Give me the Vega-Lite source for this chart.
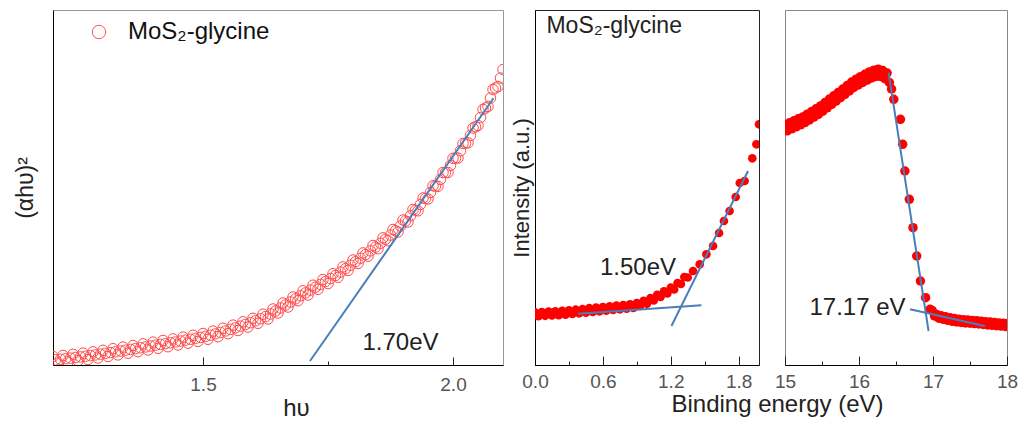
{
  "$schema": "https://vega.github.io/schema/vega-lite/v6.json",
  "padding": {"left": 13, "top": 9, "right": 5, "bottom": 5},
  "background": "white",
  "config": {
    "font": "Liberation Sans",
    "axis": {"labelFont": "Liberation Sans", "titleFont": "Liberation Sans", "titleFontWeight": "normal", "labelColor": "#555", "titleColor": "#222", "domainColor": "#000", "tickColor": "#222", "grid": false, "labelFlush": false}
  },
  "datasets": {
    "left_pts": [
      {"x":1.20,"y":8.5},{"x":1.21,"y":2},{"x":1.22,"y":9.5},{"x":1.23,"y":3.1},{"x":1.24,"y":10.7},{"x":1.25,"y":4.3},{"x":1.26,"y":11.9},{"x":1.27,"y":5.5},{"x":1.28,"y":13.2},{"x":1.29,"y":7},
      {"x":1.30,"y":14.7},{"x":1.31,"y":8.5},{"x":1.32,"y":16.3},{"x":1.33,"y":10.1},{"x":1.34,"y":17.9},{"x":1.35,"y":11.7},{"x":1.36,"y":19.5},{"x":1.37,"y":13.3},{"x":1.38,"y":21.1},{"x":1.39,"y":15},
      {"x":1.40,"y":22.9},{"x":1.41,"y":16.7},{"x":1.42,"y":24.5},{"x":1.43,"y":18.3},{"x":1.44,"y":26.1},{"x":1.45,"y":20},{"x":1.46,"y":27.9},{"x":1.47,"y":21.8},{"x":1.48,"y":29.7},{"x":1.49,"y":23.6},
      {"x":1.50,"y":31.5},{"x":1.51,"y":25.7},{"x":1.52,"y":33.9},{"x":1.53,"y":28.3},{"x":1.54,"y":36.8},{"x":1.55,"y":31.3},{"x":1.56,"y":39.9},{"x":1.57,"y":34.5},{"x":1.58,"y":43.2},{"x":1.59,"y":37.9},
      {"x":1.60,"y":46.7},{"x":1.61,"y":41.7},{"x":1.62,"y":50.8},{"x":1.63,"y":46},{"x":1.64,"y":56},{"x":1.65,"y":52},{"x":1.66,"y":62},{"x":1.67,"y":58},{"x":1.68,"y":68},{"x":1.69,"y":64.3},
      {"x":1.70,"y":74.2},{"x":1.71,"y":70},{"x":1.72,"y":79.8},{"x":1.73,"y":75.7},{"x":1.74,"y":85.5},{"x":1.75,"y":81.4},{"x":1.76,"y":91.3},{"x":1.77,"y":87.7},{"x":1.78,"y":98.1},{"x":1.79,"y":94.5},
      {"x":1.80,"y":105},{"x":1.81,"y":101.5},{"x":1.82,"y":112.1},{"x":1.83,"y":108.8},{"x":1.84,"y":119.5},{"x":1.85,"y":116.3},{"x":1.86,"y":127.2},{"x":1.87,"y":124.3},{"x":1.88,"y":135.5},{"x":1.89,"y":133},
      {"x":1.90,"y":145},{"x":1.91,"y":143},{"x":1.92,"y":155.5},{"x":1.93,"y":154.2},{"x":1.94,"y":167},{"x":1.95,"y":166},{"x":1.96,"y":179.2},{"x":1.97,"y":178.7},{"x":1.98,"y":192.5},{"x":1.99,"y":192.5},
      {"x":2.00,"y":206.7},{"x":2.01,"y":207},{"x":2.02,"y":221.5},{"x":2.03,"y":222.2},{"x":2.04,"y":237},{"x":2.05,"y":239.5},{"x":2.06,"y":255.5},{"x":2.07,"y":258.5},{"x":2.08,"y":275.5},{"x":2.09,"y":278.5},
      {"x":2.10,"y":295.5},
      {"x":1.205,"y":5.25},{"x":1.215,"y":5.75},{"x":1.225,"y":6.3},{"x":1.235,"y":6.9},{"x":1.245,"y":7.5},{"x":1.255,"y":8.1},{"x":1.265,"y":8.7},{"x":1.275,"y":9.35},{"x":1.285,"y":10.1},{"x":1.295,"y":10.85},
      {"x":1.305,"y":11.6},{"x":1.315,"y":12.4},{"x":1.325,"y":13.2},{"x":1.335,"y":14},{"x":1.345,"y":14.8},{"x":1.355,"y":15.6},{"x":1.365,"y":16.4},{"x":1.375,"y":17.2},{"x":1.385,"y":18.05},{"x":1.395,"y":18.95},
      {"x":1.405,"y":19.8},{"x":1.415,"y":20.6},{"x":1.425,"y":21.4},{"x":1.435,"y":22.2},{"x":1.445,"y":23.05},{"x":1.455,"y":23.95},{"x":1.465,"y":24.85},{"x":1.475,"y":25.75},{"x":1.485,"y":26.65},{"x":1.495,"y":27.55},
      {"x":1.505,"y":28.6},{"x":1.515,"y":29.8},{"x":1.525,"y":31.1},{"x":1.535,"y":32.55},{"x":1.545,"y":34.05},{"x":1.555,"y":35.6},{"x":1.565,"y":37.2},{"x":1.575,"y":38.85},{"x":1.585,"y":40.55},{"x":1.595,"y":42.3},
      {"x":1.605,"y":44.2},{"x":1.615,"y":46.25},{"x":1.625,"y":48.4},{"x":1.635,"y":51},{"x":1.645,"y":54},{"x":1.655,"y":57},{"x":1.665,"y":60},{"x":1.675,"y":63},{"x":1.685,"y":66.15},{"x":1.695,"y":69.25},
      {"x":1.705,"y":72.1},{"x":1.715,"y":74.9},{"x":1.725,"y":77.75},{"x":1.735,"y":80.6},{"x":1.745,"y":83.45},{"x":1.755,"y":86.35},{"x":1.765,"y":89.5},{"x":1.775,"y":92.9},{"x":1.785,"y":96.3},{"x":1.795,"y":99.75},
      {"x":1.805,"y":103.25},{"x":1.815,"y":106.8},{"x":1.825,"y":110.45},{"x":1.835,"y":114.15},{"x":1.845,"y":117.9},{"x":1.855,"y":121.75},{"x":1.865,"y":125.75},{"x":1.875,"y":129.9},{"x":1.885,"y":134.25},{"x":1.895,"y":139},
      {"x":1.905,"y":144},{"x":1.915,"y":149.25},{"x":1.925,"y":154.85},{"x":1.935,"y":160.6},{"x":1.945,"y":166.5},{"x":1.955,"y":172.6},{"x":1.965,"y":178.95},{"x":1.975,"y":185.6},{"x":1.985,"y":192.5},{"x":1.995,"y":199.6},
      {"x":2.005,"y":206.85},{"x":2.015,"y":214.25},{"x":2.025,"y":221.85},{"x":2.035,"y":229.6},{"x":2.045,"y":238.25},{"x":2.055,"y":247.5},{"x":2.065,"y":257},{"x":2.075,"y":267},{"x":2.085,"y":277},{"x":2.095,"y":287}
    ],
    "left_lines": [
      {"x":1.714,"y":4,"seg":"fit"},{"x":2.081,"y":266.7,"seg":"fit"}
    ],
    "left_text": [
      {"x":1.895,"y":22.3,"label":"1.70eV"}
    ],
    "mid_pts": [
      {"x":0.00,"y":52.7},{"x":0.03,"y":48.9},{"x":0.06,"y":53},{"x":0.09,"y":49.2},{"x":0.12,"y":53.4},{"x":0.15,"y":49.5},{"x":0.18,"y":53.7},{"x":0.21,"y":49.9},{"x":0.24,"y":54.1},{"x":0.27,"y":50.3},
      {"x":0.30,"y":54.6},{"x":0.33,"y":51},{"x":0.36,"y":55.3},{"x":0.39,"y":51.7},{"x":0.42,"y":56},{"x":0.45,"y":52.4},{"x":0.48,"y":56.8},{"x":0.51,"y":53.1},{"x":0.54,"y":57.5},{"x":0.57,"y":53.7},
      {"x":0.60,"y":58},{"x":0.63,"y":54.4},{"x":0.66,"y":58.7},{"x":0.69,"y":55},{"x":0.72,"y":59.4},{"x":0.75,"y":55.7},{"x":0.78,"y":60},{"x":0.81,"y":56.4},{"x":0.84,"y":60.7},{"x":0.87,"y":57},
      {"x":0.90,"y":62},{"x":0.93,"y":59.1},{"x":0.96,"y":64.1},{"x":0.99,"y":61.2},{"x":1.02,"y":66.8},{"x":1.05,"y":64.5},{"x":1.08,"y":70.1},{"x":1.11,"y":68},{"x":1.14,"y":73.6},{"x":1.17,"y":71.5},
      {"x":1.20,"y":77.3},{"x":1.23,"y":75.5},{"x":1.26,"y":82},{"x":1.29,"y":81},{"x":1.32,"y":88},{"x":1.35,"y":87.5},
      {"x":1.397,"y":94},{"x":1.456,"y":100.7},{"x":1.515,"y":110.7},{"x":1.574,"y":119},{"x":1.627,"y":132},{"x":1.67,"y":144},{"x":1.72,"y":154},{"x":1.774,"y":168},{"x":1.81,"y":182},{"x":1.853,"y":184},
      {"x":1.921,"y":206.7},{"x":1.957,"y":220.7},{"x":1.98,"y":240.7}
    ],
    "mid_lines": [
      {"x":0.382,"y":51.3,"seg":"base"},{"x":1.471,"y":59.7,"seg":"base"},
      {"x":1.206,"y":39,"seg":"steep"},{"x":1.883,"y":194,"seg":"steep"}
    ],
    "mid_text": [
      {"x":0.91,"y":97.3,"label":"1.50eV","size":24},
      {"x":0.70,"y":339,"label":"MoS₂-glycine","size":23}
    ],
    "right_pts": [
      {"x":15.00,"y":240.2},{"x":15.03,"y":234.2},{"x":15.06,"y":242.2},{"x":15.09,"y":236.2},{"x":15.12,"y":244.2},{"x":15.15,"y":238.2},{"x":15.18,"y":246.2},{"x":15.21,"y":240.2},{"x":15.24,"y":248.1},{"x":15.27,"y":242.4},
      {"x":15.30,"y":250.8},{"x":15.33,"y":245.1},{"x":15.36,"y":253.5},{"x":15.39,"y":247.9},{"x":15.42,"y":256.2},{"x":15.45,"y":250.6},{"x":15.48,"y":259.1},{"x":15.51,"y":253.8},{"x":15.54,"y":262.5},{"x":15.57,"y":257.2},
      {"x":15.60,"y":265.9},{"x":15.63,"y":260.5},{"x":15.66,"y":269.2},{"x":15.69,"y":263.9},{"x":15.72,"y":272.6},{"x":15.75,"y":267.3},{"x":15.78,"y":276},{"x":15.81,"y":270.7},{"x":15.84,"y":279.4},{"x":15.87,"y":274.1},
      {"x":15.90,"y":282.9},{"x":15.93,"y":277.6},{"x":15.96,"y":285.8},{"x":15.99,"y":280},{"x":16.02,"y":288.3},{"x":16.05,"y":282.5},{"x":16.08,"y":290.7},{"x":16.11,"y":284.9},{"x":16.14,"y":293.1},{"x":16.17,"y":287},
      {"x":16.20,"y":294.8},{"x":16.23,"y":288.5},{"x":16.26,"y":295.8},{"x":16.29,"y":288.5},{"x":16.32,"y":294.5},{"x":16.35,"y":286.3},{"x":16.38,"y":292},{"x":16.41,"y":282.5},{"x":16.44,"y":276},
      {"x":16.47,"y":265.7},{"x":16.56,"y":245.7},{"x":16.59,"y":220.7},{"x":16.62,"y":194},{"x":16.68,"y":165.7},{"x":16.73,"y":137.3},{"x":16.78,"y":109},{"x":16.83,"y":84},{"x":16.90,"y":67.3},{"x":16.96,"y":55.7},
      {"x":16.99,"y":54.5},{"x":17.02,"y":49},{"x":17.05,"y":50.5},{"x":17.08,"y":46.8},{"x":17.11,"y":49.2},{"x":17.14,"y":45.7},{"x":17.17,"y":48.2},{"x":17.20,"y":44.7},{"x":17.23,"y":47.2},{"x":17.26,"y":43.7},
      {"x":17.29,"y":46.4},{"x":17.32,"y":43.1},{"x":17.35,"y":45.8},{"x":17.38,"y":42.5},{"x":17.41,"y":45.3},{"x":17.44,"y":42.1},{"x":17.47,"y":44.9},{"x":17.50,"y":41.8},{"x":17.53,"y":44.6},{"x":17.56,"y":41.4},
      {"x":17.59,"y":44.2},{"x":17.62,"y":41},{"x":17.65,"y":43.8},{"x":17.68,"y":40.5},{"x":17.71,"y":43.3},{"x":17.74,"y":40.1},{"x":17.77,"y":42.9},{"x":17.80,"y":39.7},{"x":17.83,"y":42.5},{"x":17.86,"y":39.3},
      {"x":17.89,"y":42.1},{"x":17.92,"y":38.9},{"x":17.95,"y":41.8},{"x":17.98,"y":38.6},{"x":18.01,"y":41.5}
    ],
    "right_lines": [
      {"x":16.40,"y":292.3,"seg":"steep"},{"x":16.94,"y":34,"seg":"steep"},
      {"x":16.69,"y":55.7,"seg":"base"},{"x":17.70,"y":39,"seg":"base"}
    ],
    "right_text": [
      {"x":15.98,"y":57.3,"label":"17.17 eV"}
    ]
  },
  "bounds": "flush",
  "spacing": 32,
  "hconcat": [
    {
      "width": 450,
      "height": 355,
      "view": {"stroke": "#999"},
      "resolve": {"axis": {"x": "independent", "y": "independent"}},
      "layer": [
        {
          "data": {"name": "left_pts"},
          "mark": {"type": "point", "shape": "circle", "filled": false, "size": 110, "strokeWidth": 1, "opacity": 1, "clip": true},
          "encoding": {
            "x": {"field": "x", "type": "quantitative", "scale": {"domain": [1.2, 2.1], "nice": false, "zero": false},
                  "axis": {"orient": "bottom", "values": [1.5, 2.0], "format": ".1f", "tickSize": -8, "labelPadding": 18, "labelFontSize": 19, "title": "hυ", "titleFontSize": 24, "titleX": 243, "titlePadding": 2}},
            "y": {"field": "y", "type": "quantitative", "scale": {"domain": [0, 355], "nice": false},
                  "axis": {"orient": "left", "ticks": false, "labels": false, "title": "(αhυ)²", "titleFontSize": 23, "titlePadding": 16}},
            "color": {"datum": "MoS₂-glycine", "type": "nominal", "scale": {"range": ["#ff4d4d"]},
                      "legend": {"orient": "none", "legendX": 34, "legendY": 10, "title": null, "labelFontSize": 24, "labelFont": "Liberation Sans", "labelColor": "#111", "symbolSize": 180, "symbolStrokeWidth": 1, "labelOffset": 17, "symbolType": "circle", "padding": 0}}
          }
        },
        {
          "data": {"name": "left_lines"},
          "mark": {"type": "line", "color": "#4a7ebb", "strokeWidth": 2},
          "encoding": {
            "x": {"field": "x", "type": "quantitative", "axis": {"orient": "bottom", "values": [1.75], "tickSize": -4, "labels": false, "domain": false, "title": null}},
            "y": {"field": "y", "type": "quantitative", "axis": null},
            "detail": {"field": "seg"}
          }
        },
        {
          "data": {"name": "left_text"},
          "mark": {"type": "text", "fontSize": 24, "color": "#222", "font": "Liberation Sans"},
          "encoding": {
            "x": {"field": "x", "type": "quantitative", "axis": null},
            "y": {"field": "y", "type": "quantitative", "axis": null},
            "text": {"field": "label"}
          }
        }
      ]
    },
    {
      "bounds": "flush",
      "spacing": 26,
      "hconcat": [
        {
          "width": 224,
          "height": 355,
          "view": {"stroke": "#222"},
          "resolve": {"axis": {"x": "independent", "y": "independent"}},
          "layer": [
            {
              "data": {"name": "mid_pts"},
              "mark": {"type": "circle", "size": 75, "color": "#ff0000", "opacity": 1, "clip": true},
              "encoding": {
                "x": {"field": "x", "type": "quantitative", "scale": {"domain": [0, 1.98], "nice": false, "zero": false},
                      "axis": {"orient": "bottom", "values": [0, 0.6, 1.2, 1.8], "format": ".1f", "tickSize": -9, "labelPadding": 16, "labelFontSize": 19, "title": "Binding energy (eV)", "titleFontSize": 24, "titleX": 242, "titlePadding": 1}},
                "y": {"field": "y", "type": "quantitative", "scale": {"domain": [0, 355], "nice": false},
                      "axis": {"orient": "left", "ticks": false, "labels": false, "title": "Intensity (a.u.)", "titleFontSize": 22, "titlePadding": 2}}
              }
            },
            {
              "data": {"name": "mid_lines"},
              "mark": {"type": "line", "color": "#4a7ebb", "strokeWidth": 2},
              "encoding": {
                "x": {"field": "x", "type": "quantitative", "axis": {"orient": "bottom", "values": [0.3, 0.9, 1.5], "tickSize": -4, "labels": false, "domain": false, "title": null}},
                "y": {"field": "y", "type": "quantitative", "axis": null},
                "detail": {"field": "seg"}
              }
            },
            {
              "data": {"name": "mid_text"},
              "mark": {"type": "text", "color": "#222", "font": "Liberation Sans"},
              "encoding": {
                "x": {"field": "x", "type": "quantitative", "axis": null},
                "y": {"field": "y", "type": "quantitative", "axis": null},
                "text": {"field": "label"},
                "size": {"field": "size", "type": "quantitative", "scale": null}
              }
            }
          ]
        },
        {
          "width": 222,
          "height": 355,
          "view": {"stroke": "#888"},
          "resolve": {"axis": {"x": "independent", "y": "independent"}},
          "layer": [
            {
              "data": {"name": "right_pts"},
              "mark": {"type": "circle", "size": 90, "color": "#ff0000", "opacity": 1, "clip": true},
              "encoding": {
                "x": {"field": "x", "type": "quantitative", "scale": {"domain": [15, 18], "nice": false, "zero": false},
                      "axis": {"orient": "bottom", "values": [15, 16, 17, 18], "format": "d", "tickSize": -9, "labelPadding": 16, "labelFontSize": 19, "title": null}},
                "y": {"field": "y", "type": "quantitative", "scale": {"domain": [0, 355], "nice": false}, "axis": null}
              }
            },
            {
              "data": {"name": "right_lines"},
              "mark": {"type": "line", "color": "#4a7ebb", "strokeWidth": 2},
              "encoding": {
                "x": {"field": "x", "type": "quantitative", "axis": {"orient": "bottom", "values": [15.5, 16.5, 17.5], "tickSize": -4, "labels": false, "domain": false, "title": null}},
                "y": {"field": "y", "type": "quantitative", "axis": null},
                "detail": {"field": "seg"}
              }
            },
            {
              "data": {"name": "right_text"},
              "mark": {"type": "text", "fontSize": 24, "color": "#222", "font": "Liberation Sans"},
              "encoding": {
                "x": {"field": "x", "type": "quantitative", "axis": null},
                "y": {"field": "y", "type": "quantitative", "axis": null},
                "text": {"field": "label"}
              }
            }
          ]
        }
      ]
    }
  ]
}
